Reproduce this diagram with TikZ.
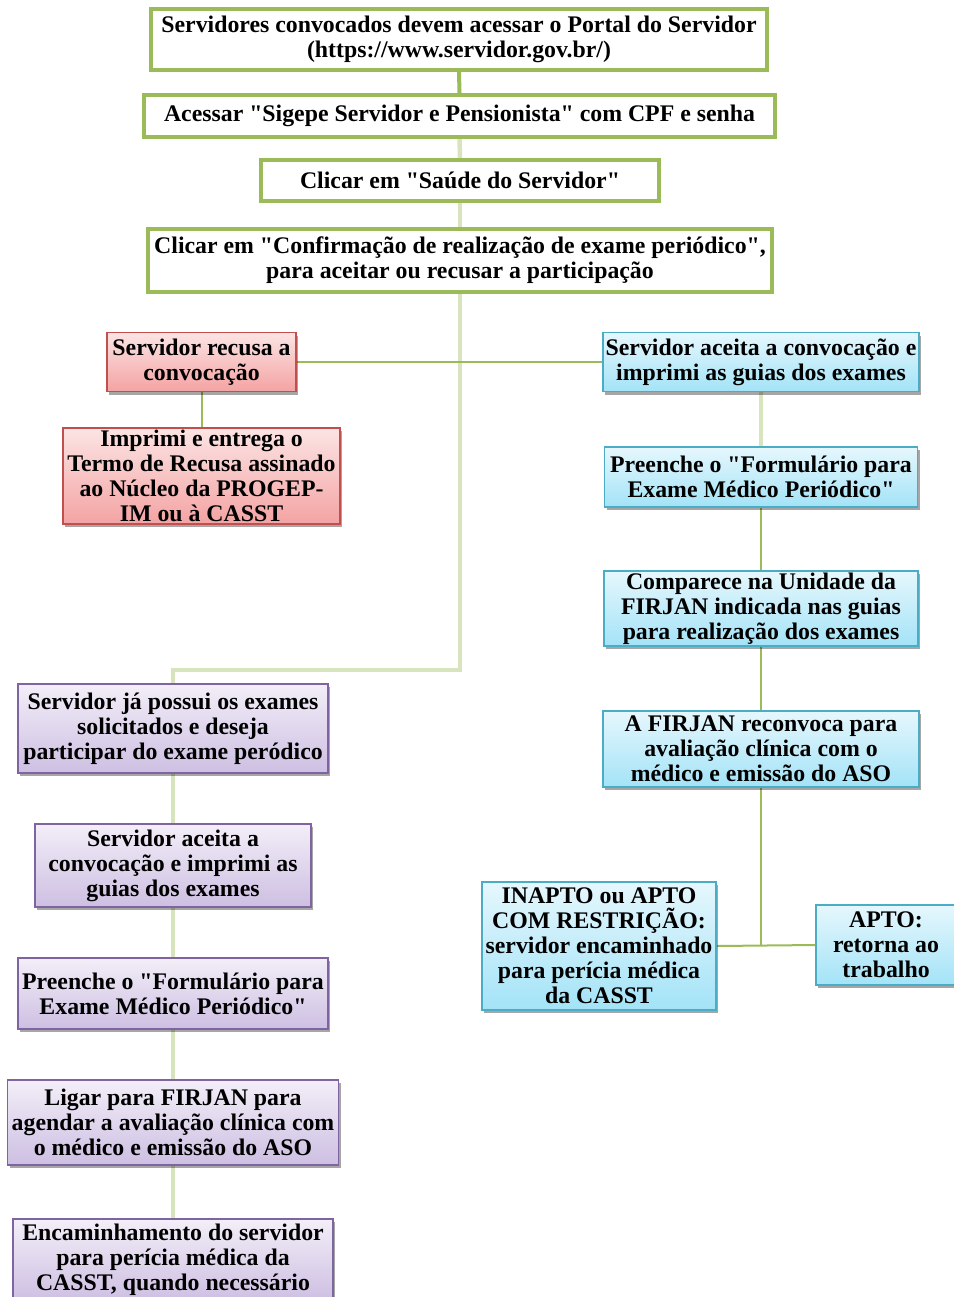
\documentclass[tikz,border=0pt]{standalone}
\usepackage{fontspec}
\setmainfont{Liberation Serif}[Ligatures=TeXOff]
\usetikzlibrary{shadows,backgrounds}
\definecolor{gA}{HTML}{9BBB59}
\definecolor{gL}{HTML}{D7E4BD}
\definecolor{rB}{HTML}{C0504D}
\definecolor{rT}{HTML}{FCE4E4}
\definecolor{rD}{HTML}{F4A3A3}
\definecolor{bB}{HTML}{4BACC6}
\definecolor{bT}{HTML}{E6F7FD}
\definecolor{bD}{HTML}{A3E3F7}
\definecolor{pB}{HTML}{8064A2}
\definecolor{pT}{HTML}{F3EEF8}
\definecolor{pD}{HTML}{CDBFE2}
\tikzset{
  txt/.style={font=\fontsize{23.8}{25}\selectfont\bfseries, align=center, inner sep=0pt, text=black},
  greenbox/.style={txt, draw=gA, line width=4pt, fill=white},
  shd/.style={drop shadow={shadow xshift=2pt, shadow yshift=-3pt, opacity=0.35, fill=black}},
  redbox/.style={txt, draw=rB, line width=1.5pt, top color=rT, bottom color=rD, shd},
  bluebox/.style={txt, draw=bB, line width=1.5pt, top color=bT, bottom color=bD, shd},
  purpbox/.style={txt, draw=pB, line width=1.5pt, top color=pT, bottom color=pD, shd},
  thickline/.style={draw=gA, line width=4pt},
  lightline/.style={draw=gL, line width=4.5pt},
  thinline/.style={draw=gA, line width=2pt},
}
\begin{document}
\begin{tikzpicture}[x=1pt,y=-1pt]
\useasboundingbox (0,0) rectangle (953,1297);
\node[greenbox, minimum width=616, minimum height=61] (g1) at (459,39.5) {Servidores convocados devem acessar o Portal do Servidor\\(https://www.servidor.gov.br/)};
\node[greenbox, minimum width=631, minimum height=42] (g2) at (459.5,116) {Acessar "Sigepe Servidor e Pensionista" com CPF e senha};
\node[greenbox, minimum width=398, minimum height=41] (g3) at (460,180.5) {Clicar em "Saúde do Servidor"};
\node[greenbox, minimum width=624, minimum height=63] (g4) at (460,260.5) {Clicar em "Confirmação de realização de exame periódico",\\para aceitar ou recusar a participação};

\node[redbox, minimum width=189, minimum height=59] (r1) at (201.5,362) {Servidor recusa a\\convocação};
\node[redbox, minimum width=277, minimum height=96] (r2) at (201.5,476) {Imprimi e entrega o\\Termo de Recusa assinado\\ao Núcleo da PROGEP-\\IM ou à CASST};

\node[bluebox, minimum width=316, minimum height=59] (b1) at (761,362) {Servidor aceita a convocação e\\imprimi as guias dos exames};
\node[bluebox, minimum width=313, minimum height=60] (b2) at (761,477) {Preenche o "Formulário para\\Exame Médico Periódico"};
\node[bluebox, minimum width=314, minimum height=75] (b3) at (761,608.5) {Comparece na Unidade da\\FIRJAN indicada nas guias\\para realização dos exames};
\node[bluebox, minimum width=316, minimum height=76] (b4) at (761,749) {A FIRJAN reconvoca para\\avaliação clínica com o\\médico e emissão do ASO};
\node[bluebox, minimum width=234, minimum height=128] (b5) at (599,946) {INAPTO ou APTO\\COM RESTRIÇÃO:\\servidor encaminhado\\para perícia médica\\da CASST};
\node[bluebox, minimum width=140, minimum height=80] (b6) at (886,945) {APTO:\\retorna ao\\trabalho};

\node[purpbox, minimum width=310, minimum height=89] (p1) at (173,728.5) {Servidor já possui os exames\\solicitados e deseja\\participar do exame peródico};
\node[purpbox, minimum width=276, minimum height=83] (p2) at (173,865.5) {Servidor aceita a\\convocação e imprimi as\\guias dos exames};
\node[purpbox, minimum width=310, minimum height=71] (p3) at (173,993.5) {Preenche o "Formulário para\\Exame Médico Periódico"};
\node[purpbox, minimum width=331, minimum height=85] (p4) at (173,1122.5) {Ligar para FIRJAN para\\agendar a avaliação clínica com\\o médico e emissão do ASO};
\node[purpbox, minimum width=320, minimum height=82] (p5) at (173,1260) {Encaminhamento do servidor\\para perícia médica da\\CASST, quando necessário};

\coordinate (t1) at (460,670);
\coordinate (j1) at (761,945);
\begin{scope}[on background layer]
\draw[thickline] (g1.south) -- (g2.north);
\draw[lightline] (g2.south) -- (g3.north);
\draw[lightline] (g3.south) -- (g4.north);
\draw[lightline] (g4.south) -- (t1) -| (p1.north);
\draw[thinline] (r1.east) -- (b1.west);
\draw[thinline] (r1.south) -- (r2.north);
\draw[lightline] (b1.south) -- (b2.north);
\draw[thinline] (b2.south) -- (b3.north);
\draw[thinline] (b3.south) -- (b4.north);
\draw[thinline] (b4.south) -- (j1);
\draw[thinline] (b5.east) -- (b6.west);
\draw[lightline] (p1.south) -- (p2.north);
\draw[lightline] (p2.south) -- (p3.north);
\draw[lightline] (p3.south) -- (p4.north);
\draw[lightline] (p4.south) -- (p5.north);
\end{scope}
\end{tikzpicture}
\end{document}
